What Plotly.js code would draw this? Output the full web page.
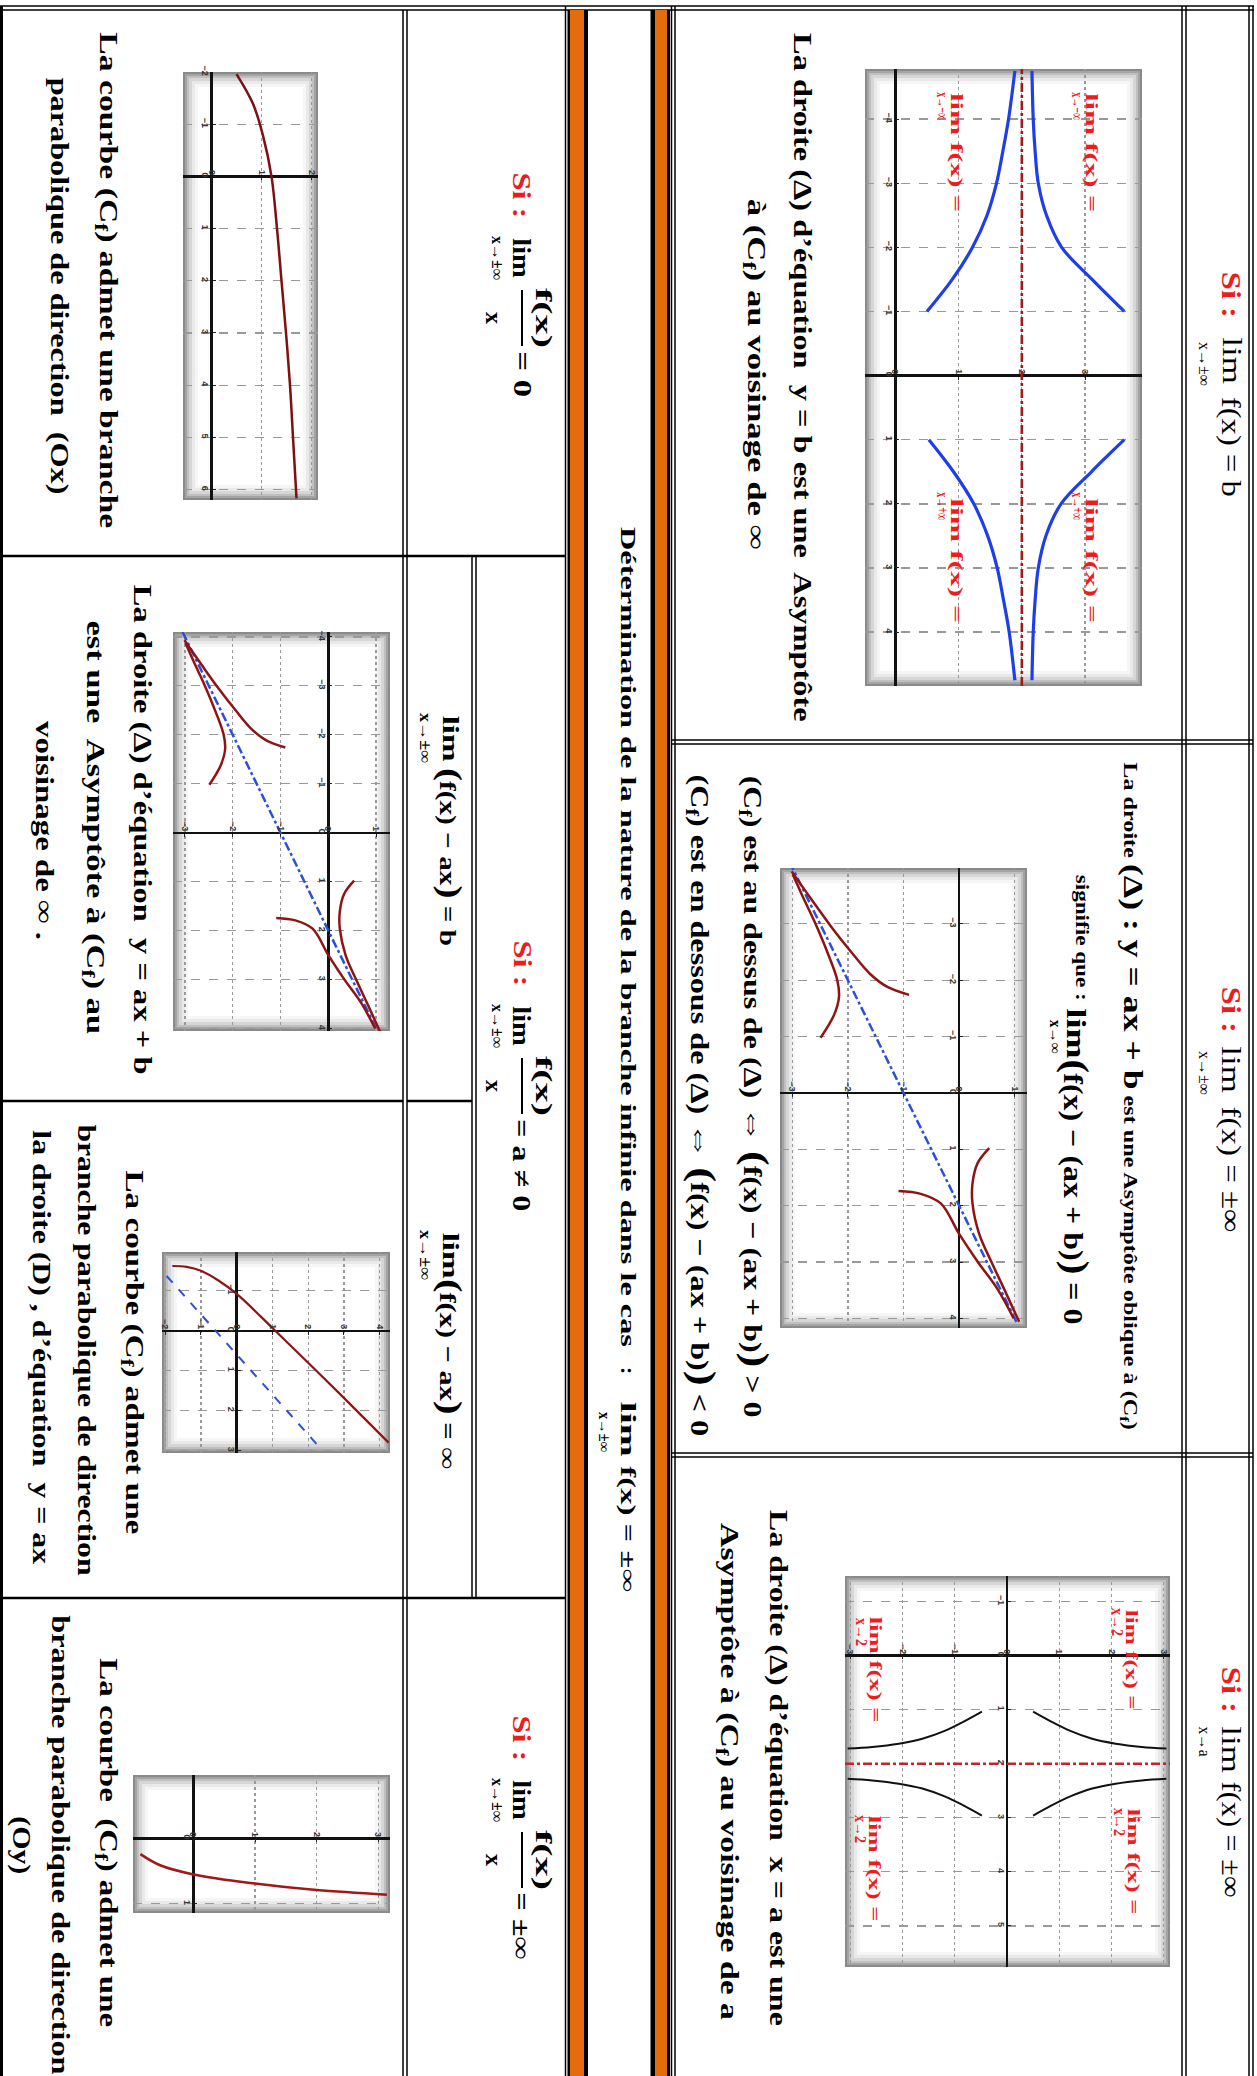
<!DOCTYPE html>
<html><head><meta charset="utf-8">
<script src="https://cdn.plot.ly/plotly-3.0.1.min.js"></script>
<style>html,body{margin:0;padding:0;background:#fff}#chart{width:1257px;height:2076px}</style>
</head><body><div id="chart"></div>
<script>
// ================= DATA =================
// For each small graph: abscissa values (x) and ordinate values (f(x)).
// Graph 1 : asymptote horizontale y = b
const g1_b = 2;
const g1_xNeg = [-4.75, -4, -3.5, -3, -2.5, -2, -1.5, -1];
const g1_lowNeg = [1.89, 1.79, 1.70, 1.60, 1.45, 1.22, 0.90, 0.50];
const g1_highNeg = [2.16, 2.18, 2.21, 2.26, 2.39, 2.63, 3.11, 3.62];
const g1_xPos = [1, 1.5, 2, 2.5, 3, 3.5, 4, 4.75];
const g1_lowPos = [0.53, 0.92, 1.24, 1.46, 1.61, 1.71, 1.80, 1.89];
const g1_highPos = [3.62, 3.10, 2.62, 2.38, 2.26, 2.21, 2.18, 2.16];

// Graph 2 (and 4) : asymptote oblique y = ax + b
const g2_lineX = [-4.1, 4.1];
const g2_lineY = [-3.05, 1.05];
const g2_aX = [-3.93, -3.44, -2.95, -2.5, -2.1, -1.88, -1.74];
const g2_aY = [-3.01, -2.66, -2.30, -1.94, -1.59, -1.29, -0.90];
const g2_bX = [-0.98, -1.38, -1.70, -2.0, -2.5, -3.04, -3.48, -3.88];
const g2_bY = [-2.49, -2.25, -2.16, -2.19, -2.37, -2.60, -2.81, -2.99];
const g2_cX = [1.74, 1.79, 1.96, 2.5, 2.99, 3.48, 4.0];
const g2_cY = [-1.09, -0.69, -0.33, 0, 0.33, 0.69, 0.98];
const g2_dX = [0.98, 1.25, 1.61, 1.96, 2.5, 3.04, 3.48, 4.06];
const g2_dY = [0.54, 0.33, 0.24, 0.24, 0.36, 0.60, 0.81, 1.08];

// Graph 3 : asymptote verticale x = a
const g3_a = 2;
const g3_xBefore = [1.04, 1.21, 1.39, 1.54, 1.63, 1.69, 1.72];
const g3_yBeforeNeg = [-0.48, -0.80, -1.18, -1.62, -2.07, -2.58, -3.05];
const g3_yBeforePos = [0.50, 0.82, 1.20, 1.63, 2.08, 2.58, 3.05];
const g3_xAfter = [2.96, 2.79, 2.61, 2.46, 2.37, 2.31, 2.28];
const g3_yAfterNeg = [-0.48, -0.80, -1.18, -1.62, -2.07, -2.58, -3.05];
const g3_yAfterPos = [0.50, 0.82, 1.20, 1.63, 2.08, 2.58, 3.05];

// Graph 5 : branche parabolique de direction (Ox)
const g5_x = [-1.96, -1.39, -0.78, 0, 1, 2, 3, 4, 5, 6.17];
const g5_y = [0.50, 0.83, 1.03, 1.20, 1.31, 1.40, 1.49, 1.57, 1.63, 1.70];

// Graph 6 : branche parabolique de direction y = ax
const g6_curveX = [-1.62, -1.60, -1.50, -1.25, -0.92, -0.07, 0.80, 1.68, 2.80];
const g6_curveY = [-1.80, -1.40, -1.00, -0.50, 0, 1, 2, 3, 4.25];
const g6_lineX = [-1.37, 2.98];
const g6_lineY = [-1.96, 2.38];

// Graph 7 : branche parabolique de direction (Oy)
const g7_x = [0.24, 0.41, 0.55, 0.69, 0.79, 0.86];
const g7_y = [-0.86, -0.54, 0, 1, 2, 3.14];

// ================= LAYOUT HELPERS =================
const W = 1257, H = 2076;
const FX = v => v / W, FY = v => 1 - v / H;
const SERIF = '"Liberation Serif", "Times New Roman", serif';
const RED = '#ee1c1c', ORANGE = '#e46c0a';
const shapes = [], annotations = [], traces = [], stretch = [];
const layout = {width: W, height: H, margin: {l: 0, r: 0, t: 0, b: 0},
  paper_bgcolor: '#ffffff', plot_bgcolor: '#ffffff', showlegend: false, hovermode: false,
  shapes: shapes, annotations: annotations};

function line(x0, y0, x1, y1, w, c) {
  shapes.push({type: 'line', xref: 'paper', yref: 'paper', x0: FX(x0), y0: FY(y0), x1: FX(x1), y1: FY(y1),
    line: {color: c || '#000', width: w || 1.5}});
}
function rect(x0, y0, x1, y1, fill, layer) {
  shapes.push({type: 'rect', xref: 'paper', yref: 'paper', x0: FX(x0), y0: FY(y1), x1: FX(x1), y1: FY(y0),
    fillcolor: fill, line: {width: 0}, layer: layer || 'above'});
}
// text written top-to-bottom (rotated 90°), centred on (x, y); o.len = length along the reading direction
function T(x, y, text, size, o) {
  o = o || {};
  const bold = o.bold !== false;
  if (o.len) stretch.push([annotations.length, o.len]);
  annotations.push({xref: 'paper', yref: 'paper', x: FX(x), y: FY(y), xanchor: 'center', yanchor: 'middle',
    text: text, textangle: 90, showarrow: false,
    font: {family: SERIF, size: size, color: o.color || '#000', weight: bold ? 'bold' : 'normal'}});
}
const BIG = (c, s) => `<span style="font-size:${s || 36}px">${c}</span>`;
const CF = '(C<sub>f</sub>)';
const IFF = BIG('⇔', 30);
const SUB = 16;

// ================= TABLE FRAME =================
line(0, 6, 1254, 6, 1.5); line(0, 10, 1254, 10, 1.5);
[1249, 1253, 1182, 1186, 671.5, 675].forEach(x => line(x, 6, x, H, 1.5));
[740, 744, 1453, 1457].forEach(y => line(671.5, y, 1253, y, 1.5));
rect(650.5, 10, 655, H, '#000'); rect(655, 10, 667, H, ORANGE); rect(667, 10, 670, H, '#000');
line(565.5, 6, 565.5, H, 1.5); rect(567.5, 10, 570, H, '#000');
rect(570, 10, 584, H, ORANGE); rect(584, 10, 588, H, '#000');
line(1.5, 6, 1.5, H, 3);
line(403, 10, 403, H, 1.5); line(407, 10, 407, H, 1.5);
line(0, 556, 566, 556, 2.5); line(0, 1598, 566, 1598, 2.5);
line(0, 1101, 403, 1101, 2.5); line(407, 1101, 472, 1101, 2.5);
line(472, 556, 472, 1598, 1.5); line(476, 556, 476, 1598, 1.5);

// ================= GRAPHS =================
const graphs = [
  {id: 1, box: [865, 69, 1142, 686], u: [-0.48, 3.9], t: [-4.78, 4.84]},
  {id: 2, box: [780, 868, 1027, 1328], u: [-3.22, 1.22], t: [-3.99, 4.17]},
  {id: 3, box: [845, 1576, 1170, 1967], u: [-3.1, 3.12], t: [-1.47, 5.76]},
  {id: 4, box: [173, 632, 390, 1031], u: [-3.25, 1.29], t: [-4.1, 4.05]},
  {id: 5, box: [183, 72, 318, 500], u: [-0.57, 2.13], t: [-2.0, 6.2]},
  {id: 6, box: [162, 1252, 390, 1453], u: [-2.09, 4.29], t: [-1.97, 3.06]},
  {id: 7, box: [133, 1775, 390, 1913], u: [-0.98, 3.19], t: [-0.97, 1.14]}
];
const sfx = k => (k === 1 ? '' : String(k));
graphs.forEach(g => {
  const [x0, y0, x1, y1] = g.box;
  [[0, '#8a8a8a'], [2, '#a4a4a4'], [4, '#bfbfbf'], [6, '#d6d6d6'], [9, '#e9e9e9'], [12, '#f6f6f6'], [15, '#ffffff']]
    .forEach(([d, c]) => rect(x0 + d, y0 + d, x1 - d, y1 - d, c, 'below'));
  const xd = [FX(x0), FX(x1)], yd = [FY(y1), FY(y0)];
  const [u0, u1] = g.u, [t0, t1] = g.t;
  const posY = yd[0] + (0 - t1) / (t0 - t1) * (yd[1] - yd[0]);
  const posX = xd[0] + (0 - u0) / (u1 - u0) * (xd[1] - xd[0]);
  const common = {showgrid: true, gridcolor: '#999999', gridwidth: 1.3, zeroline: true, zerolinecolor: '#111',
    zerolinewidth: 2.4, showline: false, dtick: 1, tick0: 0, ticks: 'inside', ticklen: 3, tickcolor: '#222',
    tickangle: 90, tickfont: {size: 9, color: '#333', family: 'Liberation Sans', weight: 'bold'},
    fixedrange: true, automargin: false};
  layout['xaxis' + sfx(g.id)] = Object.assign({}, common, {domain: xd, range: [u0, u1], anchor: 'free',
    position: posY, side: 'top', griddash: 'dot'});
  layout['yaxis' + sfx(g.id)] = Object.assign({}, common, {domain: yd, range: [t1, t0], anchor: 'free',
    position: posX, side: 'left', griddash: 'dash'});
});
function curve(k, xs, ys, color, width, dash) {
  traces.push({type: 'scatter', mode: 'lines', x: ys, y: xs, xaxis: 'x' + sfx(k), yaxis: 'y' + sfx(k),
    line: {color: color, width: width, dash: dash || 'solid', shape: 'spline'}, hoverinfo: 'skip'});
}
const BLUE1 = '#1e3ee8', DRED = '#8e1414';
curve(1, g1_xNeg, g1_lowNeg, BLUE1, 3.2); curve(1, g1_xNeg, g1_highNeg, BLUE1, 3.2);
curve(1, g1_xPos, g1_lowPos, BLUE1, 3.2); curve(1, g1_xPos, g1_highPos, BLUE1, 3.2);
shapes.push({type: 'line', xref: 'x', yref: 'y domain', x0: g1_b, x1: g1_b, y0: 0, y1: 1,
  line: {color: '#a31818', width: 2.6, dash: 'dashdot'}});
[2, 4].forEach(k => {
  curve(k, g2_lineX, g2_lineY, '#2a4fd8', 2.5, 'dashdot');
  curve(k, g2_aX, g2_aY, DRED, 2.5); curve(k, g2_bX, g2_bY, DRED, 2.5);
  curve(k, g2_cX, g2_cY, DRED, 2.5); curve(k, g2_dX, g2_dY, DRED, 2.5);
});
curve(3, g3_xBefore, g3_yBeforeNeg, '#111', 2); curve(3, g3_xBefore, g3_yBeforePos, '#111', 2);
curve(3, g3_xAfter, g3_yAfterNeg, '#111', 2); curve(3, g3_xAfter, g3_yAfterPos, '#111', 2);
shapes.push({type: 'line', xref: 'x3 domain', yref: 'y3', x0: 0, x1: 1, y0: g3_a, y1: g3_a,
  line: {color: '#c0262b', width: 2.5, dash: 'dashdot'}});
curve(5, g5_x, g5_y, '#7d1010', 2.5);
curve(6, g6_lineX, g6_lineY, '#3050d0', 2, 'dash');
curve(6, g6_curveX, g6_curveY, DRED, 2.2);
curve(7, g7_x, g7_y, '#a01818', 2.5);

// red "lim f(x) =" labels drawn inside graphs 1 and 3
function limLabel(x, y, len, subY, sub) {
  T(x, y, 'lim f(x) =', 17, {color: RED, len: len});
  T(x - 14, subY, sub, SUB, {color: RED, len: 28});
}
limLabel(1092, 152, 119, 106, 'x→−∞'); limLabel(957, 152, 119, 106, 'x→−∞');
limLabel(1092, 560, 125, 506, 'x→+∞'); limLabel(957, 560, 125, 506, 'x→+∞');
limLabel(1132, 1659, 100, 1622, 'x→2'); limLabel(876, 1669, 106, 1632, 'x→2');
limLabel(1134, 1861, 106, 1822, 'x→2'); limLabel(875, 1868, 106, 1829, 'x→2');

// ================= HEADER ROW =================
function header(si, lim, rest, restText, restLen, sub, subText, subLen) {
  T(1232, si, 'Si :', 28, {color: RED, len: 46});
  T(1232, lim, 'lim', 28, {bold: false, len: 47});
  T(1232, rest, restText, 28, {bold: false, len: restLen});
  T(1205, sub, subText, SUB, {bold: false, len: subLen});
}
header(295, 361, 447, 'f(x) = b', 100, 364, 'x→±∞', 44);
header(1010, 1070, 1169, 'f(x) = ±∞', 126, 1073, 'x→±∞', 44);
header(1690, 1750, 1839, 'f(x) = ±∞', 116, 1741, 'x→a', 30);

// ================= FIRST ROW CELLS =================
T(802, 377, 'La droite (Δ) d’équation  y = b est une  Asymptôte', 26, {len: 689});
T(755, 374, 'à ' + CF + ' au voisinage de ∞', 26, {len: 351});

T(1133, 1096, 'La droite ' + BIG('(Δ) : y = ax + b', 28) + ' est une Asymptôte oblique à ' + CF, 19, {len: 668});
T(1082, 937, 'signifie que :', 19, {len: 126});
T(1076, 1033, 'lim', 28, {len: 50});
T(1056, 1036, 'x→∞', SUB, {len: 34});
T(1076, 1192, BIG('(') + 'f(x) − (ax + b)' + BIG(')') + ' = 0', 28, {len: 265});
T(756, 1096, CF + ' est au dessus de (Δ) ' + IFF + ' ' + BIG('(') + 'f(x) − (ax + b)' + BIG(')') + ' &gt; 0', 26, {len: 642});
T(703, 1106, CF + ' est en dessous de (Δ) ' + IFF + ' ' + BIG('(') + 'f(x) − (ax + b)' + BIG(')') + ' &lt; 0', 26, {len: 662});

T(779, 1768, 'La droite (Δ) d’équation  x = a est une', 26, {len: 516});
T(728, 1771, 'Asymptôte à ' + CF + ' au voisinage de a', 26, {len: 497});

// ================= MIDDLE BAND =================
T(629, 938, 'Détermination de la nature de la branche infinie dans le cas', 22, {len: 821});
T(629, 1371, ':', 22);
T(629, 1430, 'lim', 22, {len: 55});
T(605, 1432, 'x→±∞', SUB, {len: 40});
T(629, 1530, 'f(x) = ±∞', 22, {len: 126});

// ================= BOTTOM SUB-HEADERS =================
function fracHeader(siY, limY, fracY, eqY, eqText, eqLen) {
  T(522, siY, 'Si :', 26, {color: RED, len: 46});
  T(522, limY, 'lim', 26, {len: 40});
  T(498, limY, 'x→±∞', SUB, {len: 44});
  T(544, fracY, 'f(x)', 24, {len: 60});
  T(494, fracY, 'x', 24);
  line(522, fracY - 28, 522, fracY + 28, 2);
  T(522, eqY, eqText, 26, {len: eqLen});
}
fracHeader(195, 258, 318, 374, '= 0', 46);
fracHeader(963, 1026, 1086, 1165, '= a ≠ 0', 92);
fracHeader(1738, 1800, 1860, 1926, '= ±∞', 67);
T(451, 738, 'lim', 24, {len: 46}); T(426, 738, 'x→±∞', SUB, {len: 50});
T(451, 857, BIG('(', 32) + 'f(x) − ax' + BIG(')', 32) + ' = b', 24, {len: 178});
T(451, 1255, 'lim', 24, {len: 46}); T(426, 1255, 'x→±∞', SUB, {len: 50});
T(451, 1374, BIG('(', 32) + 'f(x) − ax' + BIG(')', 32) + ' = ∞', 24, {len: 190});

// ================= BOTTOM CONTENT CELLS =================
T(107, 280, 'La courbe ' + CF + ' admet une branche', 26, {len: 496});
T(60, 286, 'parabolique de direction  (Ox)', 26, {len: 417});

T(143, 829, 'La droite (Δ) d’équation  y = ax + b', 26, {len: 490});
T(94, 827, 'est une  Asymptôte à ' + CF + ' au', 26, {len: 414});
T(45, 830, 'voisinage de ∞ .', 26, {len: 219});

T(133, 1352, 'La courbe ' + CF + ' admet une', 26, {len: 364});
T(87, 1351, 'branche parabolique de direction', 26, {len: 452});
T(42, 1347, 'la droite (D) , d’équation  y = ax', 26, {len: 434});

T(107, 1842, 'La courbe  ' + CF + ' admet une', 26, {len: 369});
T(61, 1845, 'branche parabolique de direction', 26, {len: 460});
T(22, 1845, '(Oy)', 26, {len: 58});

// Render, then stretch each text along its reading direction to the length measured on the picture
Plotly.newPlot('chart', traces, layout, {staticPlot: true, displayModeBar: false}).then(gd => {
  stretch.forEach(([idx, len]) => {
    try {
      const g = gd.querySelector('.annotation[data-index="' + idx + '"]');
      if (!g) return;
      const t = g.querySelector('text.annotation-text');
      const bb = t.getBBox();
      if (!bb.width) return;
      const k = len / bb.width;
      const cx = bb.x + bb.width / 2;
      const old = t.getAttribute('transform');
      t.setAttribute('transform', (old ? old + ' ' : '') + 'matrix(' + k + ',0,0,1,' + (cx * (1 - k)) + ',0)');
    } catch (e) { /* keep unstretched text */ }
  });
});
</script>
</body></html>
